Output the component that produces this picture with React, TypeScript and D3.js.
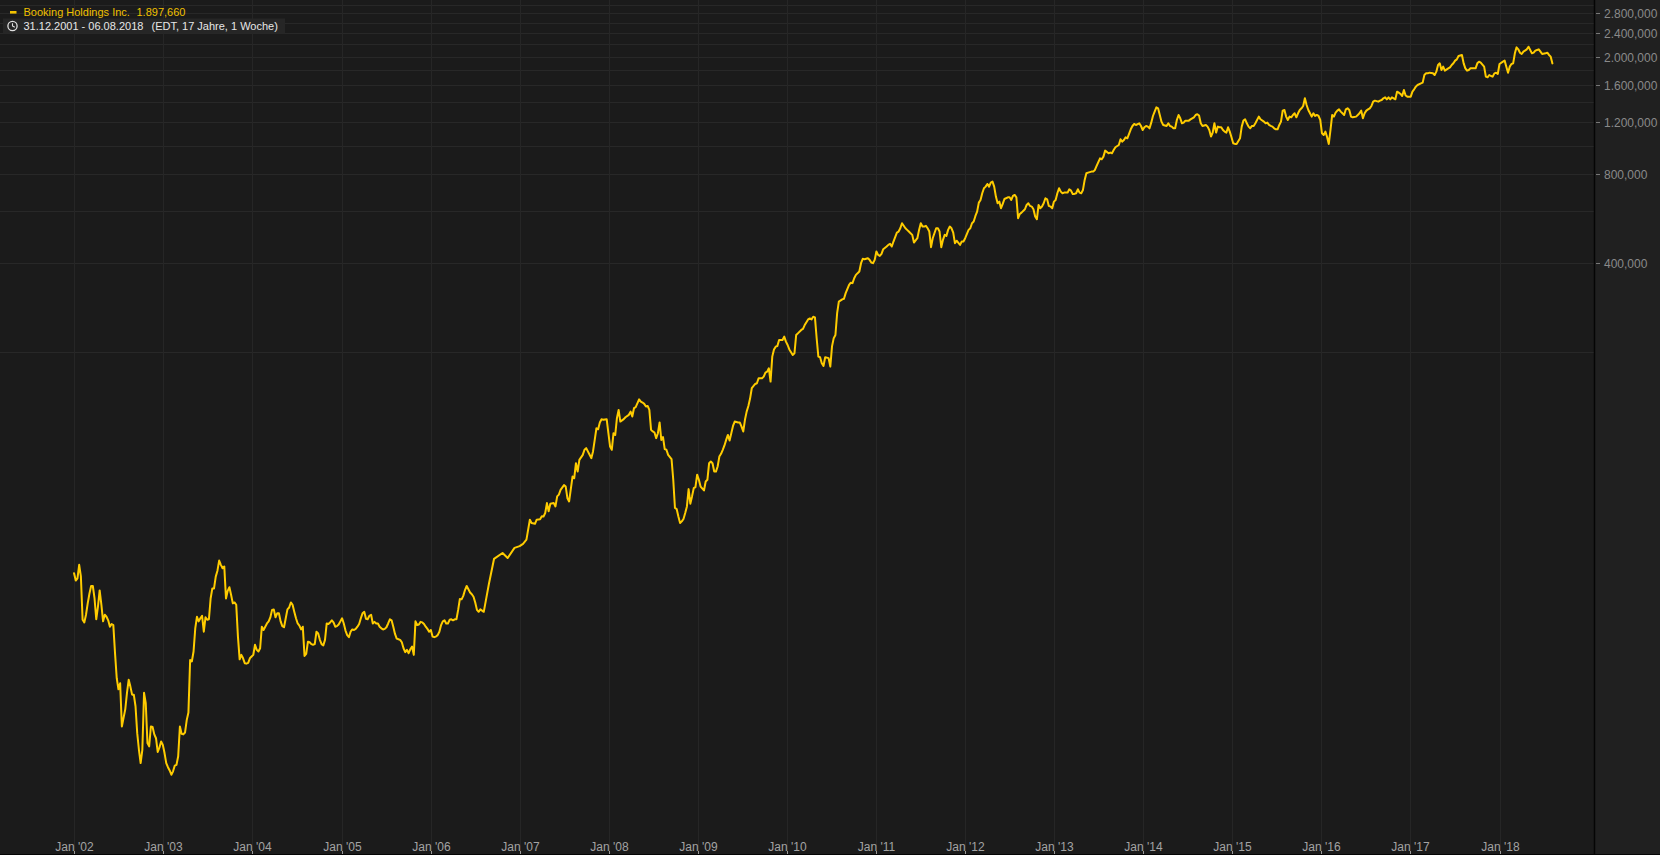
import React from 'react';
import * as d3 from 'd3';

const SERIES_NAME = 'Booking Holdings Inc.';
const LAST_CLOSE = 1897.66;
const RANGE_TEXT = '31.12.2001 - 06.08.2018';
const RANGE_NOTE = '(EDT, 17 Jahre, 1 Woche)';
const FIRST_WEEK_UTC = Date.UTC(2001, 11, 31);

// [weeks since 31.12.2001, weekly close]
const closes2002to2006: [number, number][] = [
  [0,35.8],[1,33.8],[2,34.4],[3,38.2],[4,34.9],[5,24.9],[6,24.4],[7,25.9],[8,28.3],[9,30.5],[10,32.4],[11,32.4],[12,29.4],[13,25.0],[14,27.6],[15,31.3],[16,28.0],[17,24.6],[18,25.9],[19,25.5],[20,24.8],[21,23.6],[22,24.1],[23,23.9],[24,19.2],[25,15.8],[26,14.5],[27,15.2],[28,10.85],[29,11.6],[30,12.4],[31,14.1],[32,15.6],[33,14.8],[34,13.9],[35,13.9],[36,12.7],[37,10.3],[38,9.05],[39,8.16],[40,9.05],[41,14.1],[42,13.0],[43,9.53],[44,9.29],[45,10.85],[46,10.8],[47,10.2],[48,9.9],[49,8.9],[50,9.2],[51,9.65],[52,9.4],[53,8.82],[54,8.16],[55,7.9],[56,7.7],[57,7.45],[58,7.65],[59,8.0],[60,8.05],[61,8.6],[62,10.85],[63,10.25],[64,10.2],[65,10.35],[66,11.4],[67,12.1],[68,18.2],[69,18.0],[70,19.45],[71,23.3],[72,25.5],[73,24.6],[74,25.2],[75,25.7],[76,22.7],[77,25.4],[78,24.9],[79,25.0],[80,29.4],[81,31.8],[82,31.8],[83,34.85],[84,36.5],[85,39.5],[86,38.2],[87,37.2],[88,37.7],[89,29.4],[90,31.2],[91,32.1],[92,30.2],[93,28.3],[94,28.5],[95,28.0],[96,21.85],[97,18.3],[98,18.95],[99,18.45],[100,17.76],[101,17.7],[102,17.8],[103,18.45],[104,18.7],[105,18.95],[106,20.5],[107,19.7],[108,19.45],[109,19.95],[110,23.6],[111,23.0],[112,23.6],[113,24.2],[114,24.6],[115,25.4],[116,26.9],[117,27.0],[118,25.4],[119,26.2],[120,26.2],[121,24.6],[122,23.7],[123,23.5],[124,25.2],[125,27.0],[126,27.4],[127,28.5],[128,28.0],[129,26.5],[130,25.2],[131,24.2],[132,23.8],[133,23.1],[134,23.6],[135,18.8],[136,19.1],[137,21.0],[138,20.9],[139,20.6],[140,20.5],[141,20.6],[142,22.7],[143,22.4],[144,21.3],[145,20.6],[146,20.4],[147,21.3],[148,24.2],[149,24.1],[150,24.4],[151,24.8],[152,24.4],[153,23.6],[154,23.7],[155,24.0],[156,24.6],[157,25.2],[158,24.2],[159,22.9],[160,22.1],[161,21.75],[162,22.7],[163,23.1],[164,23.0],[165,23.2],[166,23.6],[167,24.1],[168,25.2],[169,26.2],[170,26.5],[171,25.1],[172,25.0],[173,25.7],[174,25.9],[175,24.2],[176,24.5],[177,24.2],[178,24.2],[179,23.6],[180,23.3],[181,23.1],[182,23.2],[183,23.5],[184,24.2],[185,25.0],[186,24.8],[187,23.6],[188,22.3],[189,21.5],[190,21.4],[191,21.3],[192,20.9],[193,19.95],[194,19.35],[195,19.7],[196,19.2],[197,19.8],[198,20.2],[199,18.95],[200,24.6],[201,23.9],[202,24.0],[203,24.5],[204,24.4],[205,24.1],[206,23.6],[207,23.2],[208,22.7],[209,23.0],[210,21.85],[211,21.75],[212,21.85],[213,22.1],[214,22.7],[215,23.9],[216,24.6],[217,24.8],[218,24.2],[219,24.2],[220,24.9],[221,25.0],[222,24.8],[223,25.0],[224,25.0],[225,26.9],[226,29.3],[227,29.2],[228,30.0],[229,31.4],[230,32.4],[231,31.6],[232,30.8],[233,30.4],[234,29.8],[235,28.5],[236,26.9],[237,26.5],[238,27.0]
];

const closes2006to2010: [number, number][] = [
  [240,26.5],[243,32.9],[246,40.0],[251,41.9],[254,40.3],[258,43.6],[261,44.2],[263,45.0],[265,46.5],
  [267,54.3],[268,52.9],[270,52.6],[271,54.3],[273,54.5],[274,55.8],[275,55.7],[276,57.2],[277,61.8],[278,58.0],[279,61.5],[281,61.8],[282,60.2],[283,65.1],[284,66.0],[285,68.5],[287,71.1],[288,70.3],[289,64.2],[290,62.6],[292,76.0],[293,75.0],[294,84.3],[295,79.0],[296,86.5],[298,90.0],[299,93.6],[300,94.8],[302,90.0],[303,87.7],[304,92.4],[305,101.1],[306,110.7],[307,109.8],[308,115.7],[309,118.8],[310,118.2],[312,118.8],[313,106.5],[314,96.0],[315,93.6],[316,106.5],[317,105.0],[318,119.7],[319,127.7],[320,116.6],[322,118.8],[323,120.6],[325,122.9],[326,126.0],[327,121.3],[328,129.4],[329,130.4],[331,138.6],[332,136.2],[333,135.2],[334,133.8],[335,131.1],[336,131.7],[337,127.7],[338,109.3],[339,108.0],[340,107.1],[341,102.5],[342,106.5],[343,115.8],[344,101.1],[345,103.3],[346,94.1],[347,93.6],[348,90.0],[350,87.0],[351,74.1],[352,59.5],[353,59.0],[354,55.7],[355,52.9],[356,53.6],[357,54.6],[358,57.2],[359,60.2],[360,68.9],[361,61.5],[362,65.1],[363,69.4],[364,70.0],[365,77.1],[366,74.1],[367,70.3],[369,68.2],[370,73.1],[371,74.1],[372,84.3],[373,85.4],[374,84.3],[375,79.0],[376,79.0],[377,82.2],[378,88.8],[379,90.7],[380,93.6],[381,96.8],[382,101.1],[383,105.1],[384,100.6],[385,106.5],[386,112.7],[387,116.6],[389,115.7],[390,115.7],[391,112.1],[392,107.9],[393,118.2],[394,126.0],[395,131.7],[396,139.5],[397,151.2],[399,156.3],[400,157.1],[401,163.4],[403,163.4],[404,165.5],[405,170.7],[406,172.1],[407,176.6],[408,159.2],[409,193.4],[410,204.5],[411,209.0],[412,210.0],[413,220.1],[415,220.1],[416,225.9],[417,217.3],[418,211.7],[419,204.5],[421,195.9],[422,198.4],[423,228.8],[424,231.8],[426,238.0],[427,239.9],[428,247.3],[430,258.4],[431,260.3],[432,258.4],[433,263.9],[434,262.6],[435,223.1],[436,193.4],[437,192.5],[438,183.6],[439,179.8],[440,192.5],[442,191.1],[443,178.9]
];

const closes2010to2014: [number, number][] = [
  [444,209.4],[445,223.3],[446,228.8],[447,271.3],[448,296.8],[450,302.0],[451,303.6],[452,317.1],[454,338.3],[455,343.9],[456,342.7],[457,356.0],[458,365.6],[460,375.3],[461,400.4],[462,414.1],[463,413.0],[465,416.1],[466,410.9],[467,402.4],[468,400.4],[469,410.9],[470,438.4],[471,427.2],[472,423.9],[473,430.5],[474,446.4],[476,455.8],[477,461.8],[478,465.4],[479,455.8],[480,473.9],[482,508.2],[483,512.2],[484,525.5],[485,546.6],[487,525.5],[488,518.9],[489,512.2],[490,505.6],[491,499.1],[492,470.2],[494,486.3],[495,518.9],[496,546.6],[497,532.5],[498,532.5],[499,535.3],[500,525.5],[501,512.2],[502,453.5],[503,486.3],[505,525.5],[506,525.5],[507,512.2],[508,453.5],[509,480.1],[510,499.1],[511,495.2],[512,518.9],[513,532.5],[514,525.5],[515,508.2],[516,467.8],[517,477.0],[519,461.8],[520,473.9],[521,473.9],[522,486.3],[524,518.9],[525,525.5],[526,546.6],[527,553.7],[528,578.5],[529,598.4],[530,641.8],[531,655.3],[532,690.2],[533,717.6],[534,727.0],[535,742.2],[536,727.0],[537,750.0],[538,755.9],[539,727.0],[540,672.4],[541,638.5],[542,646.8],[543,614.2],[544,635.2],[545,660.0],[547,668.9],[548,668.9],[549,655.3],[550,676.0],[551,681.2],[552,668.9],[553,568.1],[554,587.6],[555,593.7],[557,609.4],[558,630.3],[559,638.5],[560,625.4],[561,622.2],[562,609.4],[563,575.6],[564,563.7],[565,630.3],[566,614.2],[567,622.2],[568,638.5],[569,663.8],[570,658.7],[571,625.4],[572,622.2],[573,614.2],[574,646.8],[575,655.3],[576,690.2],[577,717.6],[578,699.2],[579,690.2],[580,693.8],[582,693.8],[583,712.0],[584,704.6],[585,686.6],[586,686.6],[587,690.2],[588,712.0],[589,693.8],[590,690.2],[591,708.3],[592,765.6],[593,806.5],[594,810.7],[596,817.0],[597,817.0],[598,827.5],[599,853.8],[601,906.0],[602,899.3],[603,918.1],[604,962.1],[606,942.3],[607,947.2],[608,942.3],[609,967.1],[610,987.3],[612,1005.4],[613,1050.6],[614,1031.8],[615,1045.2],[616,1067.0],[617,1058.8],[619,1135.6],[620,1165.5],[621,1183.9],[622,1174.6],[624,1190.0],[625,1165.5],[626,1129.7],[627,1153.5],[628,1165.5],[629,1159.5],[630,1144.6],[631,1196.2],[632,1259.8],[633,1303.1],[634,1347.8],[635,1337.4],[636,1269.7],[637,1205.7],[638,1174.6],[640,1165.5],[641,1190.0],[642,1165.5],[643,1159.5],[644,1144.6],[645,1144.6],[646,1221.3],[647,1269.7],[648,1237.2],[649,1190.0],[650,1196.2],[651,1215.1],[653,1215.1],[654,1227.5],[655,1237.2],[656,1246.9],[657,1269.7],[658,1277.9],[659,1265.0]
];

const closes2014to2018: [number, number][] = [
  [660,1190.2],[661,1166.0],[663,1175.0],[664,1159.9],[665,1130.0],[666,1073.1],[667,1107.0],[668,1190.2],[669,1107.0],[670,1159.9],[671,1154.0],[672,1154.0],[673,1130.0],[674,1115.6],[675,1107.0],[676,1154.0],[677,1115.6],[678,1067.5],[679,1018.8],[680,1013.5],[681,1013.5],[683,1059.0],[684,1159.9],[685,1215.3],[686,1228.0],[687,1190.2],[688,1159.9],[689,1145.0],[690,1166.0],[691,1166.0],[692,1190.2],[694,1253.8],[695,1228.0],[697,1206.0],[698,1190.2],[699,1196.5],[700,1175.0],[701,1166.0],[702,1159.9],[703,1145.0],[704,1136.0],[705,1136.0],[706,1175.0],[707,1206.0],[708,1314.0],[709,1320.6],[710,1253.8],[711,1221.6],[712,1253.8],[713,1247.0],[714,1270.0],[715,1286.8],[716,1247.0],[717,1286.8],[718,1320.6],[719,1337.8],[720,1362.0],[721,1446.0],[722,1373.0],[723,1320.6],[724,1286.8],[725,1253.8],[726,1286.8],[727,1260.0],[728,1270.0],[729,1260.0],[730,1221.6],[731,1101.3],[732,1087.0],[733,1115.6],[734,1070.0],[735,1013.5],[736,1130.0],[737,1270.0],[738,1253.8],[739,1293.5],[740,1314.0],[741,1327.0],[742,1303.7],[743,1286.8],[744,1270.0],[745,1327.0],[746,1337.8],[747,1320.6],[748,1253.8],[749,1247.0],[751,1253.8],[752,1270.0],[753,1286.8],[754,1314.0],[755,1237.7],[756,1286.8],[757,1314.0],[758,1327.0],[759,1337.8],[760,1362.0],[761,1409.0],[762,1420.0],[764,1409.0],[765,1420.0],[766,1427.2],[767,1446.0],[768,1457.0],[769,1434.6],[770,1457.0],[771,1434.6],[772,1457.0],[774,1434.6],[775,1523.0],[776,1511.0],[777,1495.6],[778,1472.4],[779,1542.7],[780,1478.0],[781,1464.8],[783,1464.8],[784,1523.0],[785,1550.6],[786,1583.4],[787,1604.0],[789,1625.0],[790,1633.5],[791,1733.9],[792,1756.4],[793,1756.4],[794,1765.5],[796,1756.4],[797,1733.9],[798,1779.5],[799,1874.3],[800,1898.8],[801,1802.7],[802,1850.1],[803,1793.4],[805,1826.4],[806,1840.5],[807,1874.3],[808,1898.8],[809,1939.0],[810,1958.8],[811,2010.4],[813,2026.5],[814,1898.8],[815,1826.4],[816,1793.4],[817,1802.7],[818,1826.4],[819,1826.4],[821,1826.4],[822,1898.8],[823,1923.6],[824,1908.8],[826,1850.1],[827,1711.4],[828,1703.0],[829,1733.9],[830,1720.4],[831,1711.4],[832,1756.4],[833,1765.5],[834,1747.3],[835,1889.0],[837,1923.6],[838,1939.0],[839,1850.1],[840,1765.5],[841,1850.1],[842,1889.0],[843,1898.8],[844,2052.3],[845,2150.6],[846,2117.6],[847,2063.0],[848,2041.7],[849,2079.3],[851,2117.6],[852,2161.6],[853,2106.6],[854,2052.3],[855,2063.0],[856,2095.8],[857,2106.6],[858,2117.6],[859,2079.3],[860,2041.7],[862,2052.3],[863,2063.0],[864,2026.5],[865,2000.0],[866,1897.66]
];

const yLabelTicks = [400, 800, 1200, 1600, 2000, 2400, 2800];
const yGridTicks = [200, 400, 600, 800, 1000, 1200, 1400, 1600, 1800, 2000, 2200, 2400, 2600, 2800, 3000];
const xTickYears = [2002, 2003, 2004, 2005, 2006, 2007, 2008, 2009, 2010, 2011, 2012, 2013, 2014, 2015, 2016, 2017, 2018];

const FONT = "'Liberation Sans', Arial, Helvetica, sans-serif";

export default function App() {
  const W = 1660;
  const H = 855;
  const plotRight = 1594;

  const data = [...closes2002to2006, ...closes2006to2010, ...closes2010to2014, ...closes2014to2018].map(
    ([w, v]) => ({ date: new Date(FIRST_WEEK_UTC + w * 7 * 86400000), v })
  );

  const x = d3
    .scaleUtc()
    .domain([new Date(Date.UTC(2002, 0, 1)), new Date(Date.UTC(2018, 0, 1))])
    .range([74.3, 1499.5]);
  const y = d3.scaleLog().domain([200, 3000]).range([352.3, 4.6]);

  const line = d3
    .line<{ date: Date; v: number }>()
    .x((d) => x(d.date))
    .y((d) => y(d.v));

  const locale = d3.formatLocale({ decimal: ',', thousands: '.', grouping: [3], currency: ['', ''] });
  const fmt = locale.format(',.3f');
  const crisp = (p: number) => Math.round(p) + 0.5;

  return (
    <svg width={W} height={H} style={{ position: 'absolute', left: 0, top: 0, display: 'block' }}>
      <defs>
        <clipPath id="plotClip">
          <rect x={0} y={0} width={plotRight} height={H} />
        </clipPath>
      </defs>
      <rect x={0} y={0} width={W} height={H} fill="#1b1b1b" />
      <rect x={plotRight} y={0} width={W - plotRight} height={H} fill="#202020" />

      {yGridTicks.map((v) => (
        <line key={'hg' + v} x1={0} x2={plotRight} y1={crisp(y(v))} y2={crisp(y(v))} stroke="#282828" strokeWidth={1} />
      ))}
      {xTickYears.map((yr) => {
        const px = crisp(x(new Date(Date.UTC(yr, 0, 1))));
        return <line key={'vg' + yr} x1={px} x2={px} y1={0} y2={H} stroke="#262626" strokeWidth={1} />;
      })}

      <g clipPath="url(#plotClip)">
        <path d={line(data) || ''} fill="none" stroke="#ffcc00" strokeWidth={2} strokeLinejoin="round" strokeLinecap="round" />
      </g>

      {/* right axis */}
      <line x1={plotRight + 0.5} x2={plotRight + 0.5} y1={0} y2={H} stroke="#050505" strokeWidth={1.5} />
      {yLabelTicks.map((v) => {
        const py = crisp(y(v));
        return (
          <g key={'yl' + v}>
            <line x1={plotRight + 2} x2={plotRight + 6} y1={py} y2={py} stroke="#777" strokeWidth={1} />
            <text x={1604} y={py} dy="0.35em" fill="#8a8a8a" fontSize={12} fontFamily={FONT}>
              {fmt(v)}
            </text>
          </g>
        );
      })}

      {/* bottom axis */}
      {xTickYears.map((yr) => {
        const px = crisp(x(new Date(Date.UTC(yr, 0, 1))));
        return (
          <g key={'xl' + yr}>
            <line x1={px} x2={px} y1={851} y2={855} stroke="#9a9a9a" strokeWidth={1} />
            <text x={px} y={850.5} textAnchor="middle" fill="#a3a3a3" fontSize={12} fontFamily={FONT}>
              {`Jan '${String(yr).slice(2)}`}
            </text>
          </g>
        );
      })}
      <line x1={0} x2={W} y1={854.5} y2={854.5} stroke="#050505" strokeWidth={1} />

      {/* legend */}
      <rect x={10} y={11} width={6.5} height={2.6} fill="#f2c200" />
      <text x={23.5} y={16} fill="#f0c000" fontSize={11} fontFamily={FONT}>
        {SERIES_NAME}
      </text>
      <text x={136.5} y={16} fill="#f0c000" fontSize={11} fontFamily={FONT}>
        {fmt(LAST_CLOSE)}
      </text>
      <rect x={3} y={18.5} width={282} height={15} fill="#262626" />
      <circle cx={12.5} cy={26} r={4.6} fill="none" stroke="#e0e0e0" strokeWidth={1.3} />
      <path d="M12.5,23.2 L12.5,26 L14.8,27.2" fill="none" stroke="#e0e0e0" strokeWidth={1.1} />
      <text x={23.5} y={30} fill="#e6e6e6" fontSize={11} fontFamily={FONT}>
        {RANGE_TEXT}
      </text>
      <text x={151.5} y={30} fill="#e6e6e6" fontSize={11} fontFamily={FONT}>
        {RANGE_NOTE}
      </text>
    </svg>
  );
}
